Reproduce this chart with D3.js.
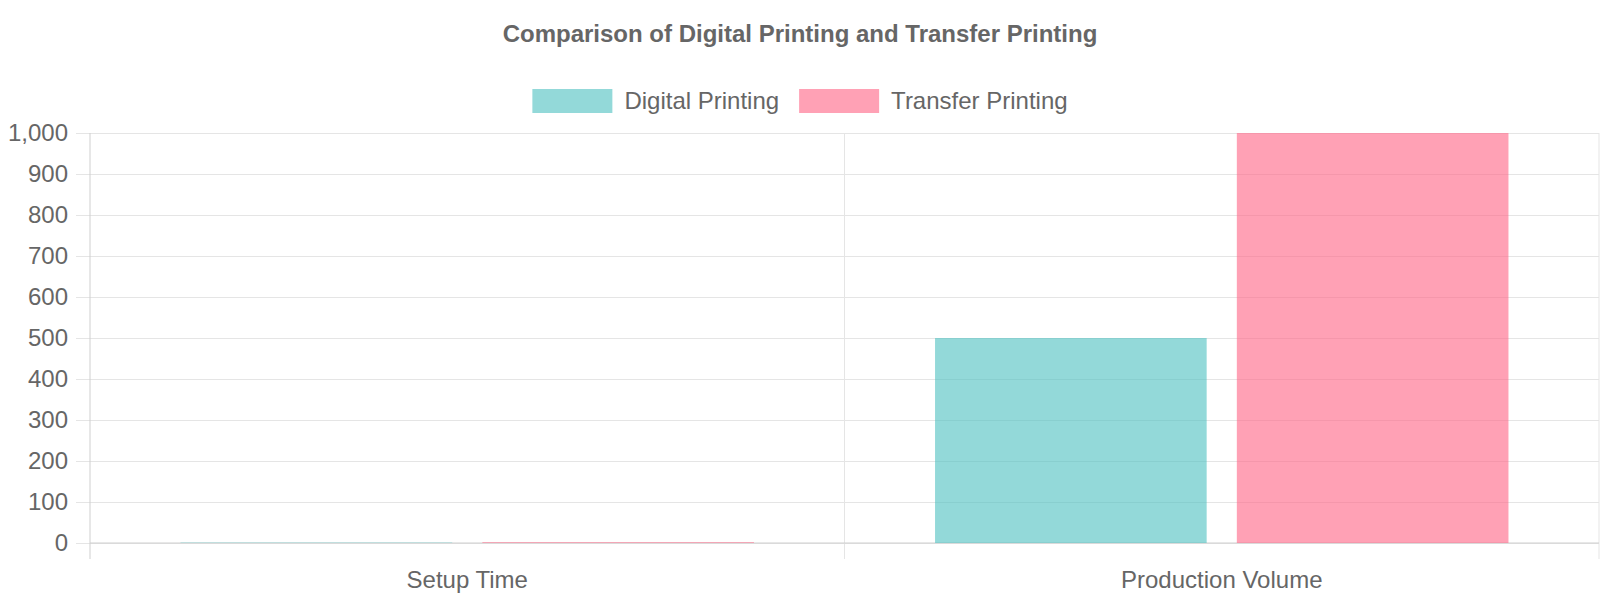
<!DOCTYPE html>
<html>
<head>
<meta charset="utf-8">
<script src="https://cdn.jsdelivr.net/npm/d3@7"></script>
<style>
  body { margin: 0; background: #fff; }
  svg { display: block; font-family: 'Liberation Sans', Arial, sans-serif; }
</style>
</head>
<body>
<svg id="chart"></svg>
<script>
const W = 1600
const H = 600
const margin = { top: 133, left: 90, right: 1, bottom: 57 }

const categories = ['Setup Time', 'Production Volume']
const series = ['Digital Printing', 'Transfer Printing']
const digitalValues = [1, 500]
const transferValues = [2, 1000]
const yTicks = [0, 100, 200, 300, 400, 500, 600, 700, 800, 900, 1000]
const colors = ['rgba(75,192,192,0.6)', 'rgba(255,99,132,0.6)']

const svg = d3.select('#chart').attr('width', W).attr('height', H)

const x = d3
	.scaleBand()
	.domain(categories)
	.range([margin.left, W - margin.right])
const y = d3
	.scaleLinear()
	.domain([0, 1000])
	.range([H - margin.bottom, margin.top])
const inner = d3
	.scaleBand()
	.domain(series)
	.range([0, x.bandwidth() * 0.8])
	.paddingInner(0.1)
	.paddingOuter(0.05)
const color = d3.scaleOrdinal().domain(series).range(colors)

// horizontal grid
svg.append('g')
	.attr('transform', `translate(${margin.left},0)`)
	.call(
		d3.axisLeft(y)
			.tickValues(yTicks)
			.tickSize(-(W - margin.left - margin.right))
			.tickFormat('')
	)
	.call(g => g.select('.domain').remove())
	.call(g => g.selectAll('line').attr('stroke', '#e5e5e5'))

// y axis ticks + labels
svg.append('g')
	.attr('transform', `translate(${margin.left},0)`)
	.call(d3.axisLeft(y).tickValues(yTicks).tickSize(14).tickPadding(8).tickFormat(d3.format(',')))
	.call(g => g.select('.domain').remove())
	.call(g => g.selectAll('line').attr('stroke', '#e5e5e5'))
	.call(g => g.selectAll('text').attr('fill', '#666').style('font-size', '24px'))

// vertical grid at category boundaries
const bounds = categories.map(c => x(c)).concat([W - margin.right])
svg.append('g')
	.selectAll('line')
	.data(bounds)
	.join('line')
	.attr('x1', d => d)
	.attr('x2', d => d)
	.attr('y1', margin.top)
	.attr('y2', H - margin.bottom + 16)
	.attr('stroke', (d, i) => (i === 0 ? '#cfcfcf' : '#e5e5e5'))

// x axis line
svg.append('line')
	.attr('x1', margin.left)
	.attr('x2', W - margin.right)
	.attr('y1', y(0))
	.attr('y2', y(0))
	.attr('stroke', '#cfcfcf')

// x labels
svg.append('g')
	.selectAll('text')
	.data(categories)
	.join('text')
	.attr('x', d => x(d) + x.bandwidth() / 2)
	.attr('y', H - margin.bottom + 37)
	.attr('dy', '0.35em')
	.attr('text-anchor', 'middle')
	.attr('fill', '#666')
	.style('font-size', '24px')
	.text(d => d)

// bars
const rows = categories.map((c, i) => ({
	cat: c,
	vals: [
		{ key: series[0], v: digitalValues[i] },
		{ key: series[1], v: transferValues[i] }
	]
}))
const groups = svg.append('g')
	.selectAll('g')
	.data(rows)
	.join('g')
	.attr('transform', d => `translate(${x(d.cat) + x.bandwidth() * 0.1},0)`)
groups.selectAll('rect')
	.data(d => d.vals)
	.join('rect')
	.attr('x', d => inner(d.key))
	.attr('width', inner.bandwidth())
	.attr('y', d => y(d.v))
	.attr('height', d => y(0) - y(d.v))
	.attr('fill', d => color(d.key))

// title
svg.append('text')
	.attr('x', W / 2)
	.attr('y', 34)
	.attr('dy', '0.35em')
	.attr('text-anchor', 'middle')
	.attr('fill', '#666')
	.style('font-size', '24px')
	.style('font-weight', 'bold')
	.text('Comparison of Digital Printing and Transfer Printing')

// legend
const legend = svg.append('g').attr('transform', 'translate(0,101)')
const items = legend.selectAll('g')
	.data(series)
	.join('g')
items.append('rect')
	.attr('y', -12)
	.attr('width', 80)
	.attr('height', 24)
	.attr('fill', d => color(d))
items.append('text')
	.attr('x', 92)
	.attr('dy', '0.35em')
	.attr('fill', '#666')
	.style('font-size', '24px')
	.text(d => d)
let widths = []
items.each(function() {
	widths.push(92 + this.querySelector('text').getComputedTextLength())
})
const gap = 20
const total = d3.sum(widths) + gap * (widths.length - 1)
let cx = (W - total) / 2
items.attr('transform', (d, i) => {
	const t = `translate(${cx},0)`
	cx += widths[i] + gap
	return t
})
</script>
</body>
</html>
